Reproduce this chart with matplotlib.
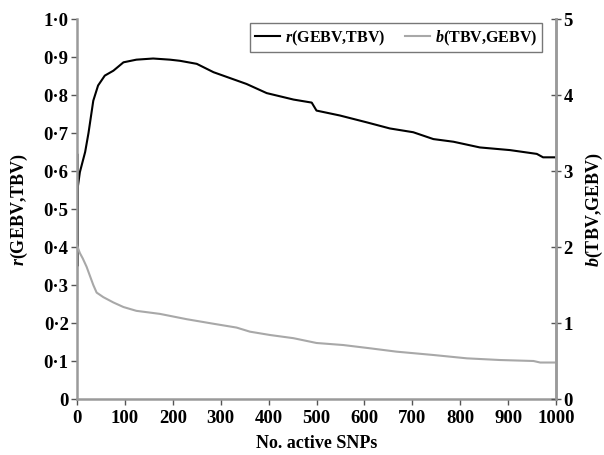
import numpy as np
import matplotlib
matplotlib.use('Agg')
import matplotlib.pyplot as plt

plt.rcParams['font.family'] = ['Liberation Serif', 'DejaVu Serif']
plt.rcParams['font.weight'] = 'bold'
plt.rcParams['mathtext.fontset'] = 'custom'
plt.rcParams['mathtext.it'] = 'Liberation Serif:italic:bold'
plt.rcParams['mathtext.rm'] = 'Liberation Serif:bold'

# r(GEBV,TBV) vs number of active SNPs (left axis)
r_snps = [0, 0.5, 1, 2, 6, 17, 24, 34, 44, 58, 76, 97, 124, 159, 194, 215, 250,
          285, 354, 396, 452, 490, 500, 549, 605, 653, 702, 744, 786, 841, 904,
          960, 973, 1000]
r_vals = [0.26, 0.645, 0.35, 0.561, 0.597, 0.65, 0.70, 0.785, 0.825, 0.851, 0.864,
          0.886, 0.893, 0.896, 0.893, 0.890, 0.882, 0.860, 0.829, 0.805, 0.788,
          0.780, 0.759, 0.746, 0.728, 0.712, 0.702, 0.684, 0.677, 0.662, 0.655,
          0.645, 0.636, 0.636]

# b(TBV,GEBV) vs number of active SNPs (right axis)
b_snps = [0, 6, 12, 20, 27, 34, 41, 55, 76, 97, 124, 173, 229, 285, 333, 361, 403,
          452, 500, 556, 612, 667, 744, 814, 883, 953, 967, 1000]
b_vals = [2.02, 1.92, 1.85, 1.74, 1.62, 1.50, 1.40, 1.34, 1.27, 1.21, 1.16, 1.12,
          1.05, 0.99, 0.94, 0.886, 0.842, 0.80, 0.737, 0.71, 0.667, 0.623, 0.579,
          0.535, 0.513, 0.50, 0.48, 0.48]

x_ticks = np.arange(0, 1001, 100)
r_ticks = np.arange(0, 1.01, 0.1)
r_ticklabels = ['0', '0·1', '0·2', '0·3', '0·4', '0·5', '0·6', '0·7', '0·8', '0·9', '1·0']
b_ticks = [0, 1, 2, 3, 4, 5]

spine_col = '#9a9a9a'
tick_col = '#555555'

fig = plt.figure(figsize=(6.04, 4.56), dpi=100)
ax = fig.add_axes([77/604., 56/456., 479/604., 380/456.])
ax2 = ax.twinx()

l1, = ax.plot(r_snps, r_vals, color='black', lw=1.5)
l2, = ax2.plot(b_snps, b_vals, color='#a8a8a8', lw=1.5)

ax.set_xlim(0, 1000)
ax.set_ylim(0, 1.0)
ax2.set_ylim(0, 5)

ax.set_xticks(x_ticks)
ax.set_xticklabels([str(t) for t in x_ticks])
ax.set_yticks(r_ticks)
ax.set_yticklabels(r_ticklabels)
ax2.set_yticks(b_ticks)
ax2.set_yticklabels([str(t) for t in b_ticks])

for a in (ax, ax2):
    a.spines['top'].set_visible(False)
    for s in ('left', 'right', 'bottom'):
        a.spines[s].set_color(spine_col)
        a.spines[s].set_linewidth(1.8)
    a.tick_params(labelsize=13.5, colors='black', color=tick_col, width=1, length=4)
ax.tick_params(axis='y', direction='out', pad=2)
ax.tick_params(axis='x', direction='out', pad=3)
ax2.tick_params(axis='y', direction='inout', length=7, pad=2)
ax2.spines['left'].set_visible(False)
ax2.spines['bottom'].set_visible(False)

ax.set_xlabel('No. active SNPs', fontsize=13, fontweight='bold', labelpad=6)
ax.set_ylabel(r'$r$(GEBV,TBV)', fontsize=13, fontweight='bold', labelpad=10)
ax2.set_ylabel(r'$b$(TBV,GEBV)', fontsize=13, fontweight='bold', labelpad=8,
               rotation=90)

leg = ax.legend([l1, l2], [r'$r$(GEBV,TBV)', r'$b$(TBV,GEBV)'], ncol=2,
                loc='upper right', bbox_to_anchor=(0.971, 0.99), borderaxespad=0,
                fancybox=False, framealpha=1, edgecolor='#777777',
                prop={'size': 11.5, 'weight': 'bold'}, handlelength=1.6,
                handletextpad=0.3, columnspacing=1.2, borderpad=0.3)
leg.get_frame().set_linewidth(1.0)

fig.savefig('out.png', dpi=100)
